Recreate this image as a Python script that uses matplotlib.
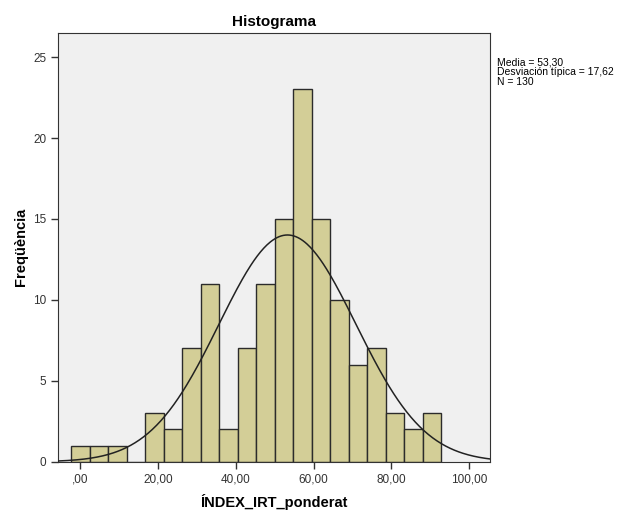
import matplotlib
matplotlib.use("Agg")
import matplotlib.pyplot as plt
import numpy as np

plt.rcParams['font.family'] = ['Liberation Sans', 'DejaVu Sans']

# Données de l'histogramme
counts = [1, 1, 1, 0, 3, 2, 7, 11, 2, 7, 11, 15, 23, 15, 10, 6, 7, 3, 2, 3]
bin_start = -2.3
bin_width = 4.76
media = 53.30
desv = 17.62
n = 130

xticks = [0, 20, 40, 60, 80, 100]
xticklabels = [",00", "20,00", "40,00", "60,00", "80,00", "100,00"]
yticks = [0, 5, 10, 15, 20, 25]

fig = plt.figure(figsize=(6.25, 5.12), dpi=100)
ax = fig.add_axes([0.093, 0.098, 0.691, 0.838])
ax.set_facecolor('#f0f0f0')

edges = bin_start + bin_width * np.arange(len(counts))
ax.bar(edges, counts, width=bin_width, align='edge', color='#d3ce97',
       edgecolor='#2b2b2b', linewidth=1.0, zorder=2)

# Courbe normale
xs = np.linspace(-5.7, 105.4, 400)
ys = n * bin_width / (desv * np.sqrt(2 * np.pi)) * np.exp(-0.5 * ((xs - media) / desv) ** 2)
ax.plot(xs, ys, color='#222222', linewidth=1.1, zorder=3)

ax.set_xlim(-5.7, 105.4)
ax.set_ylim(0, 26.5)
ax.set_xticks(xticks)
ax.set_xticklabels(xticklabels, fontsize=8.5, color='#333333')
ax.set_yticks(yticks)
ax.set_yticklabels([str(t) for t in yticks], fontsize=8.5, color='#333333')
ax.tick_params(direction='out', length=5, width=1, color='#333333')
for s in ax.spines.values():
    s.set_color('#333333')

ax.set_title('Histograma', fontsize=11, fontweight='bold', pad=5)
ax.set_xlabel('ÍNDEX_IRT_ponderat', fontsize=10.5, fontweight='bold', labelpad=6)
ax.set_ylabel('Freqüència', fontsize=10.5, fontweight='bold', labelpad=4)

fig.text(0.795, 0.887, 'Media = 53,30\nDesviación típica = 17,62\nN = 130',
         fontsize=7.5, va='top', ha='left', linespacing=0.95)

fig.savefig('out.png', dpi=100)
